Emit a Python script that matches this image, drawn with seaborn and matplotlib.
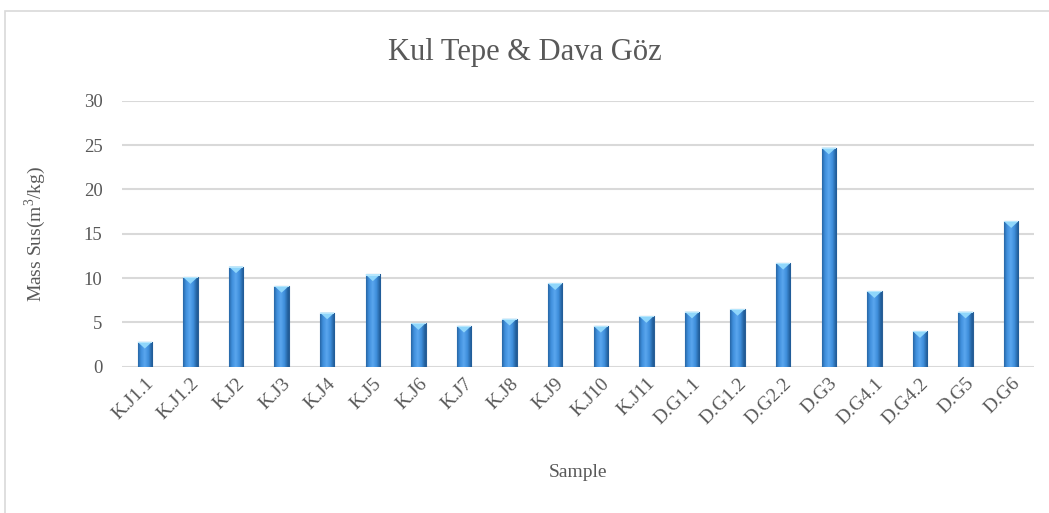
import matplotlib
matplotlib.use("Agg")
import matplotlib.pyplot as plt
from matplotlib.patches import Rectangle, Polygon
import numpy as np
import pandas as pd
import seaborn as sns

samples = ["K.J1.1", "K.J1.2", "K.J2", "K.J3", "K.J4", "K.J5", "K.J6", "K.J7",
           "K.J8", "K.J9", "K.J10", "K.J11", "D.G1.1", "D.G1.2", "D.G2.2",
           "D.G3", "D.G4.1", "D.G4.2", "D.G5", "D.G6"]
mass_sus = [2.8, 10.1, 11.3, 9.1, 6.1, 10.4, 4.9, 4.6, 5.4, 9.4, 4.6, 5.7,
            6.2, 6.5, 11.7, 24.7, 8.5, 4.0, 6.2, 16.4]
y_ticks = [0, 5, 10, 15, 20, 25, 30]

df = pd.DataFrame({"Sample": samples, "MassSus": mass_sus})

sns.set_theme(style="white")
plt.rcParams["font.family"] = ["Liberation Serif", "DejaVu Serif"]
plt.rcParams["mathtext.fontset"] = "custom"
plt.rcParams["mathtext.rm"] = "Liberation Serif"
text_col = "#595959"
grid_col = "#d9d9d9"

fig = plt.figure(figsize=(10.49, 5.13), dpi=100)
ax = fig.add_axes([0.1163, 0.2852, 0.8694, 0.5185])

sns.barplot(data=df, x="Sample", y="MassSus", color="#3b87d3", width=0.32,
            saturation=1, edgecolor="#2a5f96", linewidth=0.8, ax=ax, zorder=3)

# horizontal shading on each bar + lighter bevel on top
grad = np.linspace(0, 1, 64)
shade = 1 - 0.55 * np.abs(grad - 0.45) * 2
cmap = matplotlib.colors.LinearSegmentedColormap.from_list(
    "bar", ["#215d99", "#3f8fdc", "#5aa6ee"])
for p in ax.patches:
    x0, y0 = p.get_x(), p.get_y()
    w, h = p.get_width(), p.get_height()
    im = ax.imshow(shade[None, :], cmap=cmap, aspect="auto",
                   extent=[x0, x0 + w, y0, y0 + h], zorder=4, vmin=0.45, vmax=1)
    im.set_clip_path(p)
    tri = Polygon([[x0, y0 + h], [x0 + w, y0 + h], [x0 + w / 2, y0 + h - 0.75]],
                  closed=True, facecolor="#8fd6fb", edgecolor="none", zorder=5)
    ax.add_patch(tri)
    top = Rectangle((x0, y0 + h - 0.12), w, 0.12, facecolor="#b5e6fd",
                    edgecolor="none", zorder=5)
    ax.add_patch(top)

ax.set_xlim(-0.5, len(samples) - 0.5)
ax.set_ylim(0, 30)
ax.set_yticks(y_ticks)
ax.yaxis.grid(True, color=grid_col, linewidth=1.5, zorder=0)
ax.set_axisbelow(True)
for s in ax.spines.values():
    s.set_visible(False)
ax.tick_params(axis="both", length=0, colors=text_col, labelsize=14)
ax.tick_params(axis="y", pad=14, labelsize=13.5)
ax.tick_params(axis="x", pad=6)
plt.setp(ax.get_xticklabels(), rotation=45, ha="right", rotation_mode="anchor")

ax.set_xlabel("Sample", color=text_col, fontsize=14, labelpad=26)
ax.set_ylabel("Mass Sus(m$^3$/kg)", color=text_col, fontsize=14, labelpad=26)
fig.text(0.5, 0.897, "Kul Tepe & Dava Göz", ha="center", va="center",
         color=text_col, fontsize=22)

fig.patches.append(Rectangle((0.0048, -0.05), 1.2, 0.9786 + 0.05,
                             transform=fig.transFigure, fill=False,
                             edgecolor=grid_col, linewidth=1.2))

fig.savefig("out.png", dpi=100)
